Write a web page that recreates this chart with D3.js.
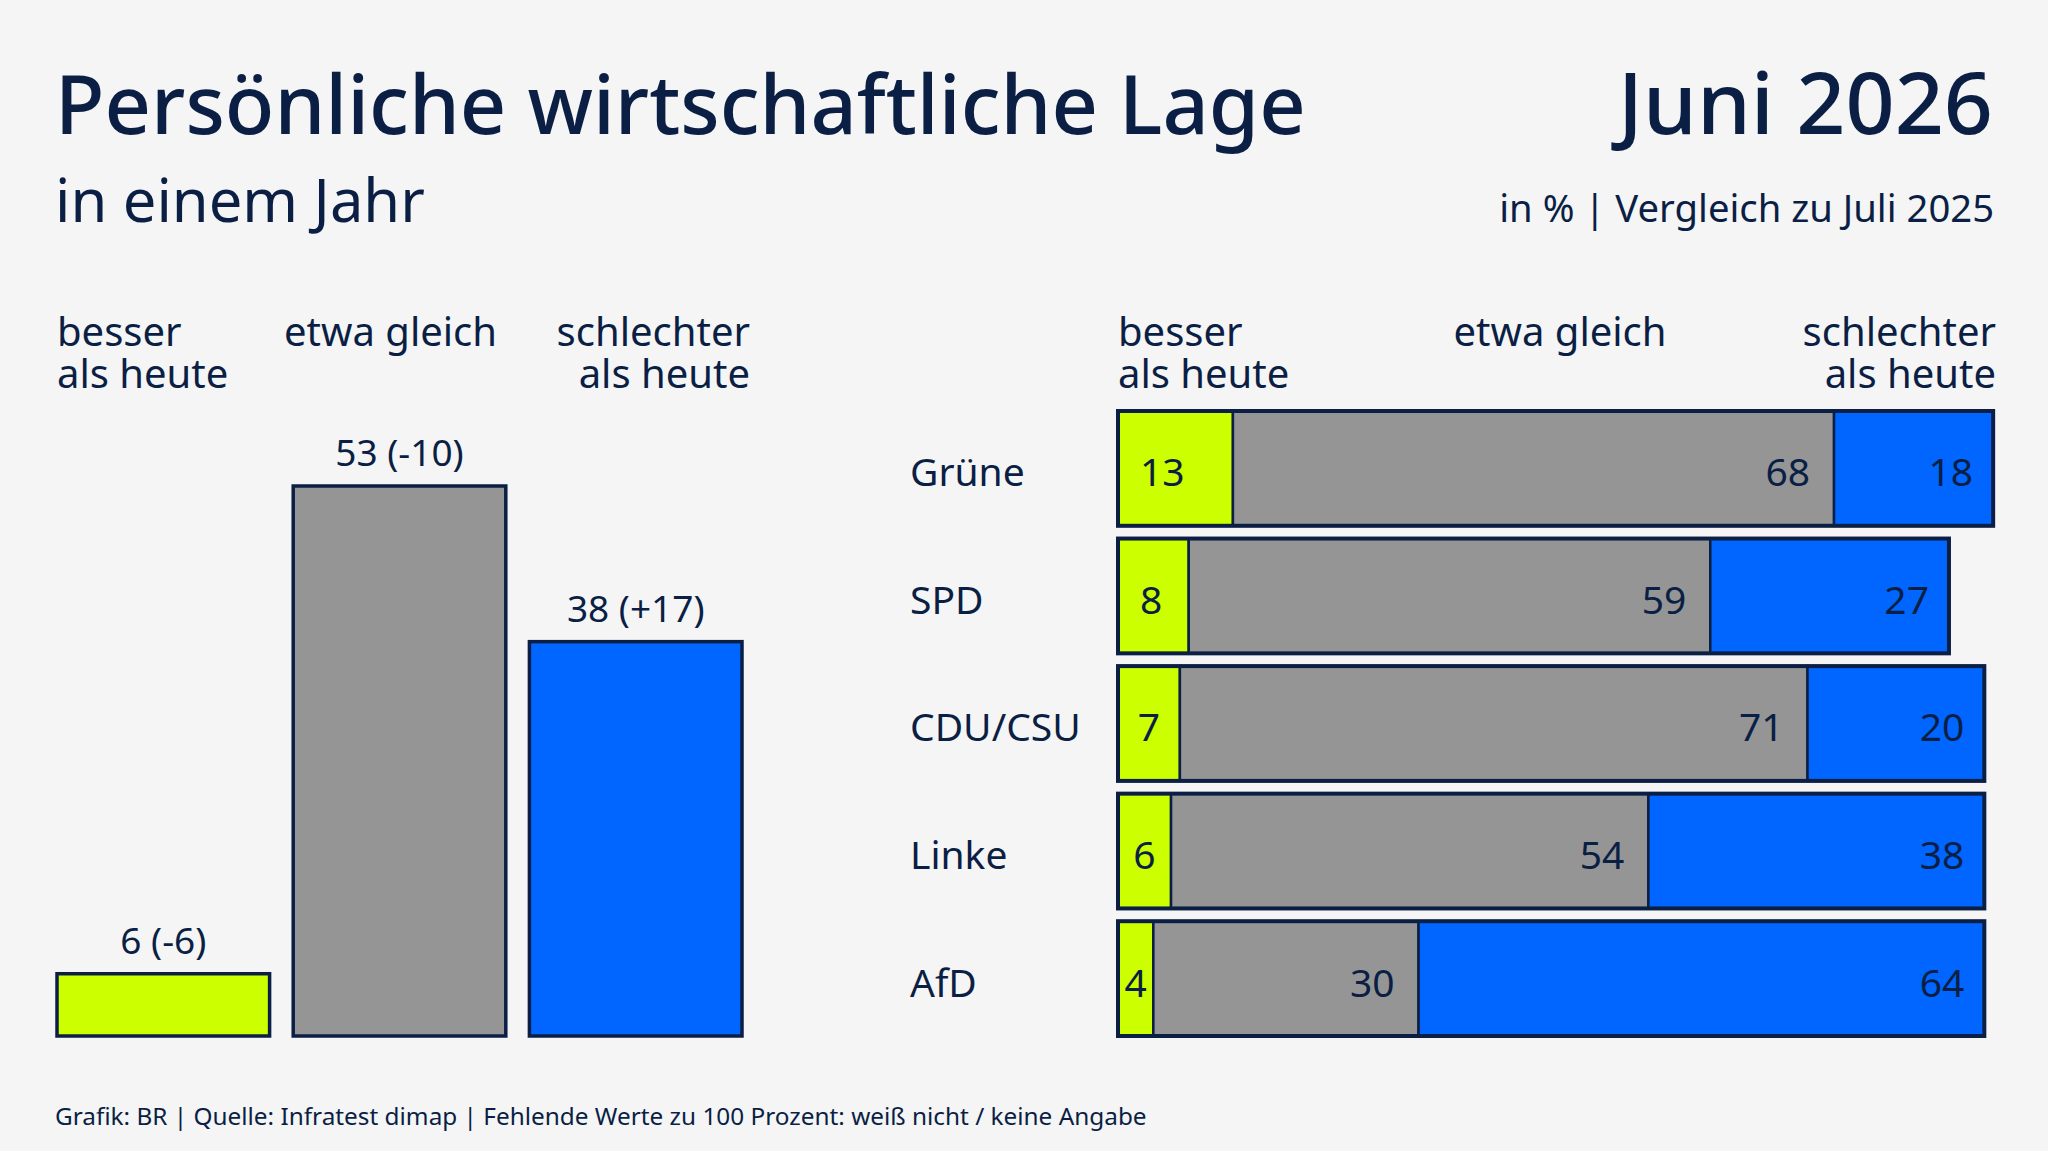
<!DOCTYPE html>
<html>
<head>
<meta charset="utf-8">
<script src="https://cdn.jsdelivr.net/npm/d3@7"></script>
<style>
  body { margin: 0; background: #f5f5f5; }
  text { font-family: "Noto Sans", "Open Sans", sans-serif; fill: #0b1f45; }
</style>
</head>
<body>
<script>
var w = 2048;
var h = 1151;

// Gesamt (links)
var answers = ["besser als heute", "etwa gleich", "schlechter als heute"];
var totalValues = [6, 53, 38];
var totalChanges = ["-6", "-10", "+17"];

// nach Partei (rechts)
var parties = ["Grüne", "SPD", "CDU/CSU", "Linke", "AfD"];
var besser = [13, 8, 7, 6, 4];
var gleich = [68, 59, 71, 54, 30];
var schlechter = [18, 27, 20, 38, 64];

var colors = ["#ccff00", "#959595", "#0066ff"];
var navy = "#0b1f45";

var svg = d3.select("body").append("svg")
    .attr("width", w)
    .attr("height", h)
    .style("background", "#f5f5f5");

// text auf eine Zielbreite bringen
function fit(sel, target) {
  var len = sel.node().getComputedTextLength();
  var fs = parseFloat(sel.attr("font-size"));
  sel.attr("font-size", fs * target / len);
  return sel;
}

var title = svg.append("text")
  .attr("x", 55).attr("y", 134)
  .attr("font-size", 96)
  .attr("font-weight", 500)
  .text("Persönliche wirtschaftliche Lage");
fit(title, 1251);

var date = svg.append("text")
  .attr("x", 1993).attr("y", 134)
  .attr("text-anchor", "end")
  .attr("font-size", 96)
  .attr("font-weight", 500)
  .text("Juni 2026");
fit(date, 375);

var sub = svg.append("text")
  .attr("x", 55).attr("y", 222)
  .attr("font-size", 56)
  .text("in einem Jahr");
fit(sub, 370);

var unit = svg.append("text")
  .attr("x", 1994).attr("y", 222)
  .attr("text-anchor", "end")
  .attr("font-size", 38)
  .text("in % | Vergleich zu Juli 2025");
fit(unit, 495);

var foot = svg.append("text")
  .attr("x", 55).attr("y", 1125)
  .attr("font-size", 25)
  .text("Grafik: BR | Quelle: Infratest dimap | Fehlende Werte zu 100 Prozent: weiß nicht / keine Angabe");
fit(foot, 1092);

var labelSize = 37;
var headSize = 40;

// ---- linke Grafik ----
var x1 = d3.scaleBand()
  .domain(answers)
  .range([57, 742])
  .paddingInner(0.1)
  .paddingOuter(0);

var y1 = d3.scaleLinear()
  .domain([0, 53])
  .range([1036, 486]);

function header(g, xpos, anchor, lines) {
  lines.forEach(function(l, i) {
    g.append("text")
      .attr("x", xpos)
      .attr("y", 346 + i * 42)
      .attr("text-anchor", anchor)
      .attr("font-size", headSize)
      .text(l);
  });
}

var left = svg.append("g");
header(left, x1(answers[0]), "start", ["besser", "als heute"]);
header(left, x1(answers[1]) + x1.bandwidth() / 2 - 9, "middle", ["etwa gleich"]);
header(left, x1(answers[2]) + x1.bandwidth() + 8, "end", ["schlechter", "als heute"]);

left.selectAll("rect.total")
  .data(totalValues)
  .enter().append("rect")
  .attr("class", "total")
  .attr("x", function(d, i) { return x1(answers[i]); })
  .attr("y", function(d) { return y1(d); })
  .attr("width", x1.bandwidth())
  .attr("height", function(d) { return y1(0) - y1(d); })
  .attr("fill", function(d, i) { return colors[i]; })
  .attr("stroke", navy)
  .attr("stroke-width", 3.5);

left.selectAll("text.val")
  .data(totalValues)
  .enter().append("text")
  .attr("class", "val")
  .attr("x", function(d, i) { return x1(answers[i]) + x1.bandwidth() / 2; })
  .attr("y", function(d) { return y1(d) - 20; })
  .attr("text-anchor", "middle")
  .attr("font-size", labelSize)
  .text(function(d, i) { return d + " (" + totalChanges[i] + ")"; });

// ---- rechte Grafik ----
var x2 = d3.scaleLinear()
  .domain([0, 100])
  .range([1118, 2002]);

var y2 = d3.scaleBand()
  .domain(parties)
  .range([411, 1036])
  .paddingInner(0.1)
  .paddingOuter(0);

var right = svg.append("g");
header(right, x2(0), "start", ["besser", "als heute"]);
header(right, x2(50), "middle", ["etwa gleich"]);
header(right, x2(100) - 6, "end", ["schlechter", "als heute"]);

var rows = parties.map(function(p, i) {
  return { party: p, values: [besser[i], gleich[i], schlechter[i]] };
});

var stack = d3.stack().keys([0, 1, 2]).value(function(d, k) { return d.values[k]; });
var series = stack(rows);

right.selectAll("text.party")
  .data(parties)
  .enter().append("text")
  .attr("class", "party")
  .attr("x", 910)
  .attr("y", function(d) { return y2(d) + y2.bandwidth() / 2; })
  .attr("dy", "0.46em")
  .attr("font-size", labelSize + 2)
  .text(function(d) { return d; });

var layer = right.selectAll("g.layer")
  .data(series)
  .enter().append("g")
  .attr("class", "layer")
  .attr("fill", function(d, i) { return colors[i]; });

layer.selectAll("rect")
  .data(function(d) { return d; })
  .enter().append("rect")
  .attr("x", function(d) { return x2(d[0]); })
  .attr("y", function(d) { return y2(d.data.party); })
  .attr("width", function(d) { return x2(d[1]) - x2(d[0]); })
  .attr("height", y2.bandwidth())
  .attr("stroke", navy)
  .attr("stroke-width", 2.5);

// Außenrahmen
right.selectAll("rect.frame")
  .data(rows)
  .enter().append("rect")
  .attr("class", "frame")
  .attr("x", x2(0))
  .attr("y", function(d) { return y2(d.party); })
  .attr("width", function(d) { return x2(d3.sum(d.values)) - x2(0); })
  .attr("height", y2.bandwidth())
  .attr("fill", "none")
  .attr("stroke", navy)
  .attr("stroke-width", 4);

// Werte in den Balken
series.forEach(function(s, k) {
  s.forEach(function(d) {
    var t = right.append("text")
      .attr("y", y2(d.data.party) + y2.bandwidth() / 2)
      .attr("dy", "0.46em")
      .attr("font-size", labelSize + 2)
      .text(d[1] - d[0]);
    if (k === 0) {
      var tw = t.node().getComputedTextLength();
      var segw = x2(d[1]) - x2(d[0]);
      t.attr("x", x2(d[0]) + Math.min(22, (segw - tw) / 2));
    } else {
      t.attr("x", x2(d[1]) - (k === 1 ? 24 : 20)).attr("text-anchor", "end");
    }
  });
});
</script>
</body>
</html>
